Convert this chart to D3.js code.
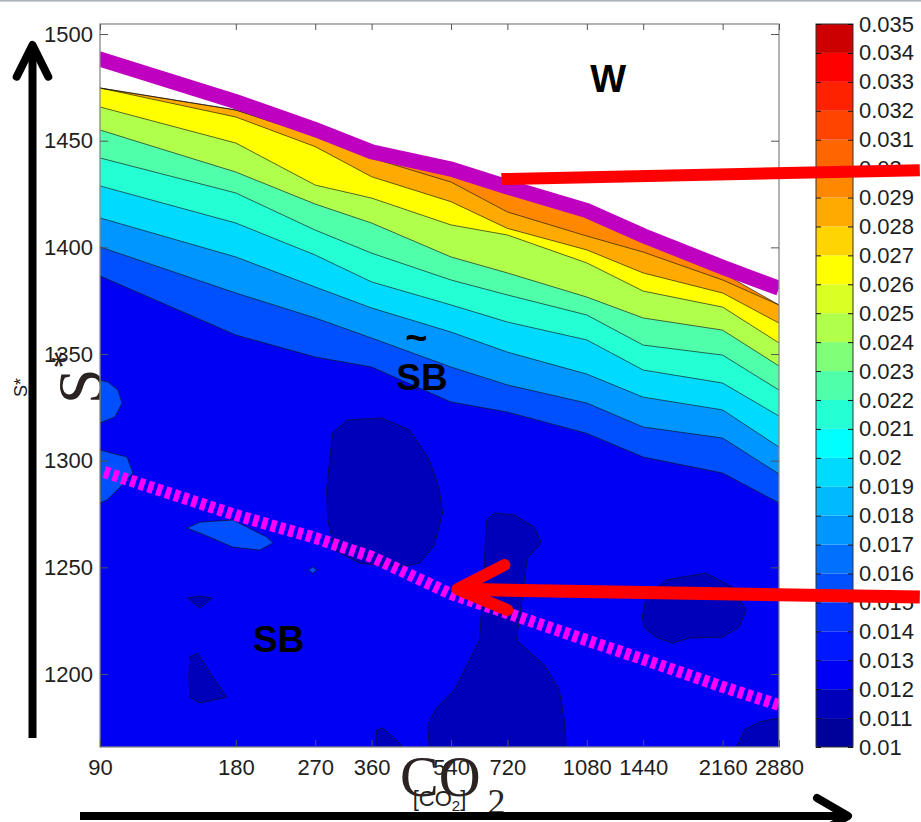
<!DOCTYPE html>
<html><head><meta charset="utf-8">
<script src="https://cdn.jsdelivr.net/npm/d3@7"></script>
<style>html,body{margin:0;padding:0;background:#fff;}svg{display:block}</style>
</head><body>
<svg id="chart" width="921" height="822"></svg>
<script>
// ---------------- DATA ----------------
const co2Grid   = [90,180,270,360,540,720,1080,1440,2160,2880];
const co2Labels = ["90","180","270","360","540","720","1080","1440","2160","2880"];
const sTicks    = [1200,1250,1300,1350,1400,1450,1500];

// contour boundaries (S* value at each co2Grid point), from top edge downwards
const sTop = [1474.7,1464.4,1452.2,1441.9,1433.9,1425.5,1414.2,1402.5,1388.0,1373.0];
const sAB  = [1474.7,1464.4,1452.2,1441.9,1430.6,1416.6,1405.3,1397.8,1384.7,1373.0];
const sBC  = [1474.7,1461.1,1447.2,1433.1,1421.4,1408.9,1398.8,1388.0,1378.6,1364.5];
const sCD  = [1465.8,1448.9,1429.2,1423.1,1410.5,1405.8,1392.7,1379.5,1372.0,1355.2];
const sDE  = [1455.0,1435.3,1420.3,1411.4,1395.5,1388.0,1376.7,1366.9,1361.2,1344.4];
const sEF  = [1441.9,1425.5,1408.1,1397.3,1384.7,1377.7,1368.3,1354.2,1349.5,1333.1];
const sFG  = [1428.8,1411.4,1396.4,1383.8,1373.0,1365.0,1356.6,1342.5,1336.4,1320.9];
const sGH  = [1413.8,1395.5,1381.4,1371.6,1360.3,1350.9,1340.6,1329.8,1323.8,1306.4];
const sHI  = [1400.2,1378.6,1366.9,1357.5,1343.9,1335.5,1327.0,1315.8,1310.6,1293.8];
const sIJ  = [1386.6,1358.9,1348.6,1343.9,1327.5,1322.8,1312.8,1301.7,1294.2,1280.2];
// value of each filled band lying below the boundary of the same index
const bandUpper  = [sTop,sAB,sBC,sCD,sDE,sEF,sFG,sGH,sHI,sIJ];
const bandValues = [0.0295,0.0285,0.0265,0.0245,0.0225,0.0215,0.0195,0.0175,0.0155,0.0125];

// low-value islands  [co2, S*]
const lowBlobs = [
  [[295.1,1313.0],[318.6,1319.1],[378.8,1320.0],[436.9,1314.4],[483.8,1300.3],[509.1,1286.2],[517.0,1275.5],[496.3,1260.5],[459.8,1252.0],[415.2,1250.2],[338.6,1252.0],[298.1,1258.1],[287.7,1272.2],[286.2,1286.3],[290.6,1300.3]],
  [[646.9,1272.2],[673.8,1275.5],[746.2,1274.5],[826.2,1268.9],[856.2,1261.4],[797.3,1254.4],[785.2,1244.1],[765.4,1225.3],[753.8,1215.9],[805.4,1210.3],[869.4,1204.2],[938.5,1192.5],[962.7,1178.4],[972.6,1165.0],[483.8,1165.0],[478.9,1176.1],[501.4,1184.1],[549.6,1192.5],[593.3,1206.6],[624.3,1215.9],[633.9,1234.7],[640.4,1253.4]],
  [[1432.7,1226.7],[1462.2,1236.1],[1619.1,1244.1],[1985.3,1247.3],[2266.7,1240.8],[2434.3,1230.0],[2349.0,1222.0],[2153.9,1217.3],[1820.4,1216.9],[1669.4,1214.5],[1538.8,1217.3],[1447.4,1222.0]],
  [[2313.5,1165.0],[2409.6,1173.7],[2601.1,1177.5],[2880,1179.4],[2880,1165.0]],
  [[140.9,1235.6],[149.8,1236.6],[159.3,1235.6],[149.8,1230.9]],
  [[142.4,1208.0],[148.3,1209.8],[157.7,1200.5],[171.9,1189.2],[149.8,1186.4],[142.4,1189.2],[141.7,1198.6]],
  [[369.3,1173.7],[380.8,1174.7],[415.2,1167.7],[421.6,1165.0],[367.4,1165.0]]
];
const lowBlobValue = 0.0115;
const midBlobs = [
  [[90,1337.8],[93.7,1336.9],[98.6,1333.1],[100.7,1327.0],[97.1,1320.5],[90,1317.7]],
  [[90,1305.0],[103.3,1301.7],[106.5,1294.2],[99.7,1287.6],[93.3,1281.6],[90,1280.2]],
  [[140.2,1268.4],[149.8,1271.2],[177.3,1272.2],[210.8,1264.2],[217.4,1261.4],[203.4,1258.1],[177.3,1259.5],[149.8,1266.1]],
  [[261.1,1248.8],[266.5,1250.2],[272.0,1248.8],[266.5,1247.3]]
];
const midBlobValue = 0.0155;

// regime boundaries drawn over the map
const magentaCo2 = [86,180,270,360,540,720,1080,1440,2160,2880];
const magentaS   = [1489.5,1468.3,1455.2,1444.8,1436.7,1428.3,1417.2,1405.5,1390.7,1380.8];
const dashCo2    = [92,180,270,360,540,720,1080,1440,2160,2880];
const dashS      = [1294.7,1274.5,1263.8,1254.9,1237.5,1228.6,1215.8,1206.9,1194.0,1185.5];

// colour bar
const cbTicks  = [0.010,0.011,0.012,0.013,0.014,0.015,0.016,0.017,0.018,0.019,0.020,0.021,0.022,0.023,0.024,0.025,0.026,0.027,0.028,0.029,0.030,0.031,0.032,0.033,0.034,0.035];
const cbLabels = ["0.01","0.011","0.012","0.013","0.014","0.015","0.016","0.017","0.018","0.019","0.02","0.021","0.022","0.023","0.024","0.025","0.026","0.027","0.028","0.029","0.03","0.031","0.032","0.033","0.034","0.035"];
const cbColors = ["#00009b","#0000bb","#0000f2","#0018ff","#0032ff","#0050ff","#0070ff","#0096ff","#00b9ff","#00daff","#00ffff","#24ffd4","#50ffaa","#80ff78","#afff4b","#daff24","#ffff00","#ffd400","#ffaa00","#ff8800","#ff6600","#ff4400","#ff2200","#ff0000","#cc0000"];

// ---------------- LAYOUT ----------------
const svg = d3.select("#chart");
const L = 100, R = 779, T = 24, B = 747;
const x = d3.scaleLog().domain([90,2880]).range([L,R]);
const y = d3.scaleLinear().domain([1165.8,1504.7]).range([B,T]);
const cbY = d3.scaleLinear().domain([0.010,0.035]).range([B,T]);
const color = d3.scaleThreshold().domain(cbTicks.slice(1,-1)).range(cbColors);
const sansF = "'Liberation Sans',Arial,Helvetica,sans-serif";
const serifF = "'Liberation Serif','Times New Roman',serif";

svg.append("rect").attr("x",0).attr("y",0).attr("width",921).attr("height",1.6).attr("fill","#a9b3ba");

// big S* behind the axes
const bigS = svg.append("text").attr("transform","translate(102,404) rotate(-90)")
  .attr("font-family",serifF).attr("font-size",64).attr("fill","#2b2222").text("S");
bigS.append("tspan").attr("font-size",36).attr("dy",-26).text("*");

// plot
svg.append("clipPath").attr("id","pclip").append("rect")
  .attr("x",L).attr("y",T).attr("width",R-L).attr("height",B-T);
svg.append("rect").attr("x",L).attr("y",T).attr("width",R-L).attr("height",B-T).attr("fill","#fff");
const plot = svg.append("g").attr("clip-path","url(#pclip)");

const areaGen = d3.area().x((d,i)=>x(co2Grid[i])).y0(B).y1(d=>y(d));
bandUpper.forEach((u,k)=>{
  plot.append("path").attr("d",areaGen(u)).attr("fill",color(bandValues[k]));
});
const blobGen = d3.line().x(d=>x(d[0])).y(d=>y(d[1])).curve(d3.curveLinearClosed);
midBlobs.forEach(b=>plot.append("path").attr("d",blobGen(b)).attr("fill",color(midBlobValue))
  .attr("stroke","#111").attr("stroke-width",0.8).attr("stroke-opacity",0.8));
lowBlobs.forEach(b=>plot.append("path").attr("d",blobGen(b)).attr("fill",color(lowBlobValue))
  .attr("stroke","#111").attr("stroke-width",0.8).attr("stroke-opacity",0.8));
const lineGen = d3.line().x((d,i)=>x(co2Grid[i])).y(d=>y(d));
bandUpper.forEach(u=>plot.append("path").attr("d",lineGen(u)).attr("fill","none")
  .attr("stroke","#111").attr("stroke-width",0.8).attr("stroke-opacity",0.8));

const ptLine = d3.line().x(d=>x(d[0])).y(d=>y(d[1]));
plot.append("path").attr("d",ptLine(magentaCo2.map((c,i)=>[c,magentaS[i]])))
  .attr("fill","none").attr("stroke","#c000c0").attr("stroke-width",15);
plot.append("path").attr("d",ptLine(dashCo2.map((c,i)=>[c,dashS[i]])))
  .attr("fill","none").attr("stroke","#ff00ff").attr("stroke-width",12).attr("stroke-dasharray","5.5,3.7");

// frame and ticks
svg.append("rect").attr("x",L).attr("y",T).attr("width",R-L).attr("height",B-T)
  .attr("fill","none").attr("stroke","#8a8a8a").attr("stroke-width",1.3);
function styleAxis(g){
  g.select(".domain").remove();
  g.selectAll(".tick line").attr("stroke","#555");
  g.attr("font-family",sansF).attr("font-size",22);
  g.selectAll("text").attr("fill","#1e1e1e");
}
svg.append("g").attr("transform",`translate(0,${B})`)
  .call(d3.axisBottom(x).tickValues(co2Grid).tickFormat((d,i)=>co2Labels[i]).tickSize(-7).tickPadding(12)).call(styleAxis);
svg.append("g").attr("transform",`translate(0,${T})`)
  .call(d3.axisTop(x).tickValues(co2Grid).tickFormat("").tickSize(-6)).call(styleAxis);
svg.append("g").attr("transform",`translate(${L},0)`)
  .call(d3.axisLeft(y).tickValues(sTicks).tickFormat(d3.format("d")).tickSize(-8).tickPadding(7)).call(styleAxis);
svg.append("g").attr("transform",`translate(${R},0)`)
  .call(d3.axisRight(y).tickValues(sTicks).tickFormat("").tickSize(-8)).call(styleAxis);

// colour bar
const cbL = 816, cbR = 853;
svg.append("g").selectAll("rect").data(cbColors).join("rect")
  .attr("x",cbL).attr("width",cbR-cbL)
  .attr("y",(d,i)=>cbY(cbTicks[i+1])).attr("height",(d,i)=>cbY(cbTicks[i])-cbY(cbTicks[i+1]))
  .attr("fill",d=>d);
svg.append("rect").attr("x",cbL).attr("y",T).attr("width",cbR-cbL).attr("height",B-T)
  .attr("fill","none").attr("stroke","#333").attr("stroke-width",1);
svg.append("g").attr("transform",`translate(${cbR},0)`)
  .call(d3.axisRight(cbY).tickValues(cbTicks).tickFormat((d,i)=>cbLabels[i]).tickSize(-5).tickPadding(6))
  .call(g=>{g.select(".domain").remove();g.selectAll(".tick line").attr("stroke","#111");
    g.attr("font-family",sansF).attr("font-size",22);g.selectAll("text").attr("fill","#1e1e1e");});
svg.append("g").attr("transform",`translate(${cbL},0)`)
  .call(d3.axisLeft(cbY).tickValues(cbTicks).tickFormat("").tickSize(-5))
  .call(g=>{g.select(".domain").remove();g.selectAll(".tick line").attr("stroke","#111");});

// region labels
const lab = (c,s,txt,anchor)=>svg.append("text").attr("x",x(c)).attr("y",y(s))
  .attr("font-family",sansF).attr("font-weight","bold").attr("font-size",38)
  .attr("text-anchor",anchor||"middle").attr("fill","#000").text(txt);
lab(1205,1472.8,"W");
lab(465.7,1333.1,"SB").attr("font-size",37);
lab(452.2,1351.6,"~");
lab(224.1,1210.4,"SB").attr("font-size",37);

// red pointers
const red = svg.append("g").attr("fill","none").attr("stroke","#ff0000");
red.append("path").attr("d",ptLine([[698.3,1432.0],[5909,1436.2]])).attr("stroke-width",12);
red.append("path").attr("d",ptLine([[566,1239.7],[5909,1236.1]])).attr("stroke-width",13);
red.append("path").attr("d",ptLine([[709.1,1251.1],[558.1,1239.8],[720.0,1230.0]]))
  .attr("stroke-width",12).attr("stroke-linecap","round").attr("stroke-linejoin","round");

// axis titles
svg.append("text").attr("transform","translate(27,397) rotate(-90)")
  .attr("font-family",sansF).attr("font-size",18).attr("fill","#222").text("S*");
const xt = svg.append("text").attr("x",(L+R)/2).attr("y",806).attr("text-anchor","middle")
  .attr("font-family",sansF).attr("font-size",22).attr("fill","#222").text("[CO");
xt.append("tspan").attr("font-size",15).attr("dy",5).text("2");
xt.append("tspan").attr("dy",-5).text("]");
const bigC = svg.append("text").attr("x",400).attr("y",796)
  .attr("font-family",serifF).attr("font-size",58).attr("fill","#2b2222").text("CO");
bigC.append("tspan").attr("font-size",36).attr("dx",7).attr("dy",18).text("2");

// black axis arrows
const blk = svg.append("g").attr("fill","none").attr("stroke","#000").attr("stroke-width",8);
blk.append("line").attr("x1",32.5).attr("y1",738).attr("x2",32.5).attr("y2",48);
blk.append("path").attr("d","M16.7,76.7L32.5,45L48.3,76.7").attr("stroke-linecap","round").attr("stroke-linejoin","round");
blk.append("line").attr("x1",80).attr("y1",816).attr("x2",845).attr("y2",816);
blk.append("path").attr("d","M817,798L848,816L817,834").attr("stroke-linecap","round").attr("stroke-linejoin","round");
</script>
</body></html>
